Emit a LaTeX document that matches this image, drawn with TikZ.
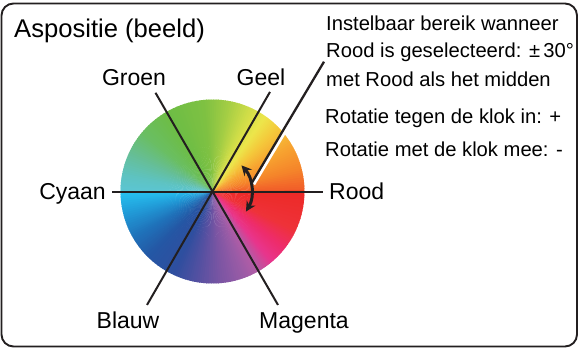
\documentclass[tikz,border=0pt]{standalone}
\usepackage{fontspec}
\setmainfont{Liberation Sans}
\usetikzlibrary{arrows.meta}
\definecolor{ink}{HTML}{231F20}
\definecolor{h000}{HTML}{F15A29}
\definecolor{h015}{HTML}{F5862A}
\definecolor{h030}{HTML}{F7A330}
\definecolor{h045}{HTML}{F4CB3C}
\definecolor{h055}{HTML}{EDE64B}
\definecolor{h065}{HTML}{D2DE48}
\definecolor{h080}{HTML}{A3CD44}
\definecolor{h095}{HTML}{7FC142}
\definecolor{h120}{HTML}{6DBD45}
\definecolor{h140}{HTML}{6ABE62}
\definecolor{h155}{HTML}{66BE95}
\definecolor{h170}{HTML}{5EC3C2}
\definecolor{h180}{HTML}{5BC5D3}
\definecolor{h181}{HTML}{27C2F0}
\definecolor{h195}{HTML}{2199D6}
\definecolor{h210}{HTML}{1F72BA}
\definecolor{h225}{HTML}{2458A5}
\definecolor{h245}{HTML}{2F4E9F}
\definecolor{h260}{HTML}{5350A1}
\definecolor{h275}{HTML}{7A55A3}
\definecolor{h290}{HTML}{9A5BA6}
\definecolor{h300}{HTML}{B45CA6}
\definecolor{h310}{HTML}{E8358D}
\definecolor{h322}{HTML}{EE2C6A}
\definecolor{h335}{HTML}{EE3239}
\definecolor{h360}{HTML}{ED2A27}
\tikzset{
  lbl/.style={font=\fontsize{23}{28}\selectfont, inner sep=0pt},
  note/.style={font=\fontsize{20.2}{28}\selectfont, inner sep=0pt, anchor=base west},
  spoke/.style={draw=ink, line width=2pt}
}
\begin{document}
\begin{tikzpicture}[x=1pt,y=1pt,>=Stealth]
	  \useasboundingbox (0,0) rectangle (581,349);
	  \draw[ink, line width=1.9pt, rounded corners=12pt] (1.5,2.5) rectangle (577,345.5);
	  \coordinate (c) at (212.5,157.5);
	  \foreach \s/\e/\ca/\cb in {0/15/h000/h015, 15/30/h015/h030, 30/45/h030/h045,
	      45/55/h045/h055, 55/65/h055/h065, 65/80/h065/h080, 80/95/h080/h095,
	      95/120/h095/h120, 120/140/h120/h140, 140/155/h140/h155, 155/170/h155/h170,
	      170/180/h170/h180, 180/195/h181/h195, 195/210/h195/h210, 210/225/h210/h225,
	      225/245/h225/h245, 245/260/h245/h260, 260/275/h260/h275, 275/290/h275/h290,
	      290/300/h290/h300, 300/310/h300/h310, 310/322/h310/h322, 322/335/h322/h335,
	      335/360/h335/h360}{
	    \foreach \k in {0,...,9}{
	      \pgfmathsetmacro\aa{\s+(\e-\s)*\k/10}
	      \pgfmathsetmacro\bb{\s+(\e-\s)*(\k+1)/10+0.6}
	      \pgfmathtruncatemacro\pp{95-10*\k}
	      \fill[\ca!\pp!\cb] (c) -- ++(\aa:92pt) arc[start angle=\aa, end angle=\bb, radius=92pt] -- cycle;
	    }
	  }
	  \path (c) ++(120:114) coordinate (sGroen);
	  \path (c) ++(60:115) coordinate (sGeel);
	  \path (c) ++(180:100.5) coordinate (sCyaan);
	  \path (c) ++(0:110.5) coordinate (sRood);
	  \path (c) ++(240:131) coordinate (sBlauw);
	  \path (c) ++(300:131) coordinate (sMagenta);
	  \draw[spoke] (sGroen) -- (sMagenta);
	  \draw[spoke] (sGeel) -- (sBlauw);
	  \draw[spoke] (sCyaan) -- (sRood);
	  \node[lbl, anchor=base] (groen) at (134,263.3) {Groen};
	  \node[lbl, anchor=base] (geel) at (261,263.3) {Geel};
	  \node[lbl, anchor=base east] (cyaan) at (106,150) {Cyaan};
	  \node[lbl, anchor=base west] (rood) at (329,150) {Rood};
	  \node[lbl, anchor=base] (blauw) at (128,21) {Blauw};
	  \node[lbl, anchor=base] (magenta) at (304,21) {Magenta};
	  \node[font=\fontsize{25.6}{30}\selectfont, inner sep=0pt, anchor=base west] (title) at (14,311.7) {Aspositie (beeld)};
	  \node[note] (r1) at (326,319) {Instelbaar bereik wanneer};
	  \node[note] (r2) at (326,291) {Rood is geselecteerd: ±\,30°};
	  \node[note] (r3) at (326,263) {met Rood als het midden};
	  \node[note] (r4) at (325,226) {Rotatie tegen de klok in: +};
	  \node[note] (r5) at (325,192.3) {Rotatie met de klok mee: -};
	  \path (c) ++(12:40) coordinate (lead0);
	  \coordinate (lead1) at (324,287.3);
	  \draw[white, line width=3pt] ([shift={(2.1,-1.2)}]lead0) -- ([shift={(2.1,-1.2)}]lead1);
	  \draw[ink, line width=3pt, <->, >={Stealth[length=10pt,width=10pt]}] (c) ++(-31:39) arc[start angle=-31, end angle=42, radius=39pt];
	  \draw[ink, line width=2.3pt] (lead0) -- (lead1);
	\end{tikzpicture}
\end{document}
